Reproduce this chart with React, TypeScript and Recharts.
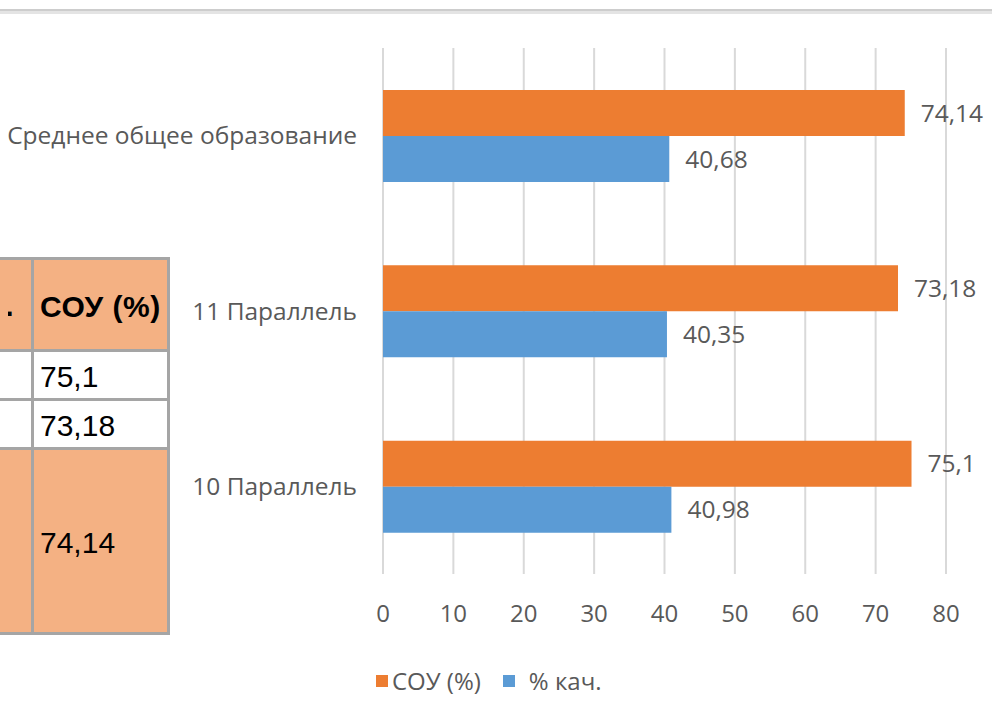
import React from "react";
import { BarChart, Bar, XAxis, YAxis, CartesianGrid, Legend, LabelList } from "recharts";

const categories = ["Среднее общее образование", "11 Параллель", "10 Параллель"];
const souValues = [74.14, 73.18, 75.1];
const qualityValues = [40.68, 40.35, 40.98];
const xTicks = [0, 10, 20, 30, 40, 50, 60, 70, 80];
const seriesNames = ["СОУ (%)", "% кач."];

// the table fragment cut off at the left edge of the picture
const tableHeaders = ["% кач.", "СОУ (%)"];
const tableSouRows = ["75,1", "73,18", "74,14"];

const data = categories.map((name, i) => ({
  name,
  sou: souValues[i],
  quality: qualityValues[i],
}));

const GRAY = "#595959";
const FONT = "'Open Sans', sans-serif";
const SALMON = "#F4B183";
const CELL_BORDER = "3px solid #a5a5a5";

const fmt = (v: any) => String(v).replace(".", ",");

const renderLegend = (props: any) => {
  const items = [...(props.payload ?? [])].sort(
    (a: any, b: any) => seriesNames.indexOf(a.value) - seriesNames.indexOf(b.value)
  );
  return (
    <div style={{ display: "flex", alignItems: "center", fontFamily: FONT, fontSize: 24, color: GRAY }}>
      {items.map((it: any, i: number) => (
        <div key={i} style={{ display: "flex", alignItems: "center", marginRight: 22 }}>
          <span
            style={{
              display: "inline-block",
              width: 12,
              height: 12,
              background: it.color,
              marginRight: i === 0 ? 4 : 14,
            }}
          />
          <span>{it.value}</span>
        </div>
      ))}
    </div>
  );
};

function Cell({ left, top, width, height, bg, children, pad = 6, bold = false }: any) {
  return (
    <div
      style={{
        position: "absolute",
        left,
        top,
        width,
        height,
        boxSizing: "border-box",
        border: CELL_BORDER,
        background: bg,
        display: "flex",
        alignItems: "center",
        paddingLeft: pad,
        paddingTop: 4,
        fontFamily: "'Liberation Sans', Arial, sans-serif",
        fontWeight: bold ? 700 : 400,
        fontSize: 30,
        letterSpacing: bold ? 0.5 : 0,
        color: "#000",
        whiteSpace: "nowrap",
        overflow: "hidden",
      }}
    >
      {children}
    </div>
  );
}

export default function App() {
  return (
    <div
      style={{
        position: "absolute",
        left: 0,
        top: 0,
        width: 992,
        height: 724,
        background: "#fff",
        overflow: "hidden",
      }}
    >
      <div
        style={{
          position: "absolute",
          left: 0,
          top: 9,
          width: 992,
          height: 3,
          background: "#e4e4e4",
          borderTop: "2px solid #cdcdcd",
        }}
      />

      <BarChart
        width={992}
        height={724}
        data={data}
        layout="vertical"
        margin={{ top: 48, right: 46, bottom: 20, left: 0 }}
        barGap={0}
        style={{ position: "absolute", left: 0, top: 0, fontFamily: FONT }}
      >
        <CartesianGrid horizontal={false} stroke="#d9d9d9" strokeWidth={2} />
        <XAxis
          type="number"
          domain={[0, 80]}
          ticks={xTicks}
          interval={0}
          axisLine={false}
          tickLine={false}
          tickSize={0}
          tickMargin={31}
          height={90}
          tick={{ fill: GRAY, fontSize: 24, fontFamily: FONT }}
        />
        <YAxis
          type="category"
          dataKey="name"
          width={383}
          axisLine={false}
          tickLine={false}
          tickSize={0}
          tickMargin={26}
          tick={{ fill: GRAY, fontSize: 24.5, fontFamily: FONT }}
        />
        <Legend
          content={renderLegend}
          wrapperStyle={{ left: 376, bottom: 20, width: 400, height: 40 }}
        />
        <Bar dataKey="sou" name={seriesNames[0]} fill="#ED7D31" barSize={46} isAnimationActive={false}>
          <LabelList
            dataKey="sou"
            position="right"
            offset={16}
            formatter={fmt}
            style={{ fill: GRAY, fontSize: 24.5, fontFamily: FONT }}
          />
        </Bar>
        <Bar dataKey="quality" name={seriesNames[1]} fill="#5B9BD5" barSize={46} isAnimationActive={false}>
          <LabelList
            dataKey="quality"
            position="right"
            offset={16}
            formatter={fmt}
            style={{ fill: GRAY, fontSize: 24.5, fontFamily: FONT }}
          />
        </Bar>
      </BarChart>

      {/* header row; the first column's text is clipped by the picture's left edge */}
      <Cell left={-120} top={257} width={154} height={95} bg={SALMON} pad={0} bold>
        <div style={{ position: "absolute", left: 125, top: 0, width: 14, height: "100%", overflow: "hidden" }}>
          <span style={{ position: "absolute", right: 8, top: 29 }}>{tableHeaders[0]}</span>
        </div>
      </Cell>
      <Cell left={31} top={257} width={139} height={95} bg={SALMON} pad={6} bold>
        {tableHeaders[1]}
      </Cell>
      {/* body rows */}
      <Cell left={-120} top={349} width={154} height={52} bg="#fff" />
      <Cell left={31} top={349} width={139} height={52} bg="#fff">
        {tableSouRows[0]}
      </Cell>
      <Cell left={-120} top={398} width={154} height={52} bg="#fff" />
      <Cell left={31} top={398} width={139} height={52} bg="#fff">
        {tableSouRows[1]}
      </Cell>
      <Cell left={-120} top={447} width={154} height={188} bg={SALMON} />
      <Cell left={31} top={447} width={139} height={188} bg={SALMON}>
        {tableSouRows[2]}
      </Cell>
    </div>
  );
}
